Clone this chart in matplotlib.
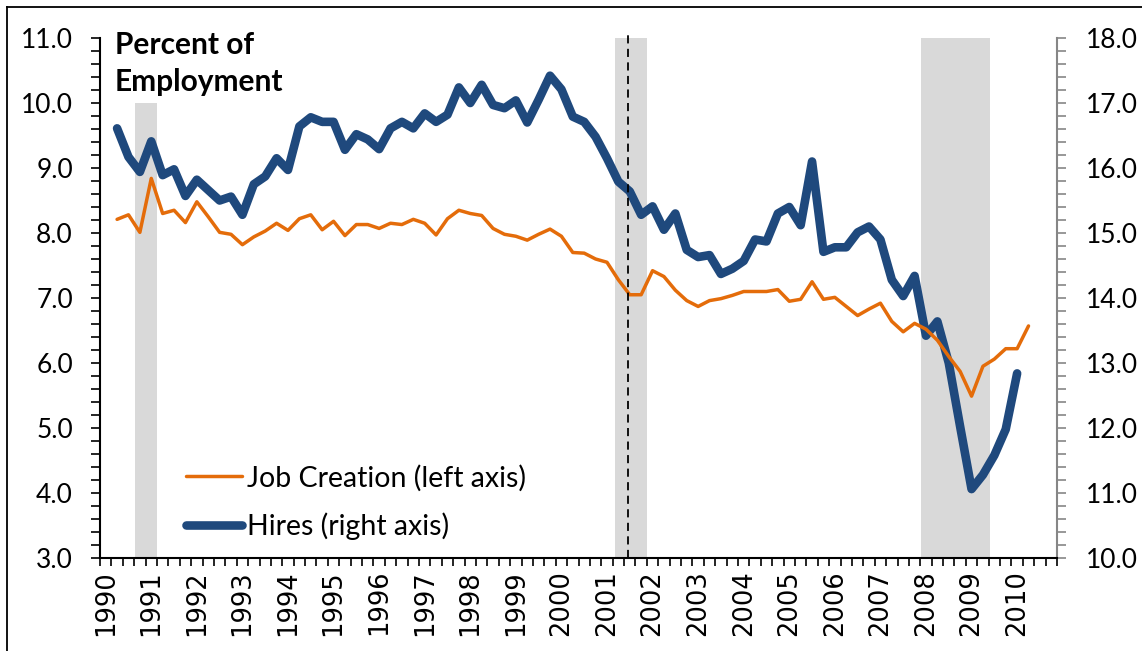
import matplotlib
matplotlib.use('Agg')
import matplotlib.pyplot as plt
from matplotlib.lines import Line2D
from matplotlib.patches import Rectangle
from matplotlib.ticker import FixedLocator, MultipleLocator, FormatStrFormatter
import numpy as np

# ---------------- data ----------------
years = [str(y) for y in range(1990, 2011)]          # labels, one per 4 quarters
n_quarters = 84                                      # 1990Q1 .. 2010Q4
jc_first_q = 1                                       # job creation starts 1990Q2
hires_first_q = 1                                    # hires starts 1990Q2

job_creation = [
    8.21, 8.28, 8.01, 8.84, 8.30, 8.35, 8.16, 8.48, 8.25, 8.01,
    7.98, 7.82, 7.94, 8.03, 8.15, 8.04, 8.22, 8.28, 8.05, 8.18,
    7.96, 8.13, 8.13, 8.07, 8.15, 8.13, 8.21, 8.15, 7.97, 8.22,
    8.35, 8.30, 8.27, 8.07, 7.98, 7.95, 7.89, 7.98, 8.06, 7.95,
    7.70, 7.69, 7.60, 7.55, 7.28, 7.05, 7.05, 7.42, 7.33, 7.12,
    6.96, 6.87, 6.96, 6.99, 7.04, 7.10, 7.10, 7.10, 7.13, 6.95,
    6.98, 7.25, 6.98, 7.01, 6.87, 6.73, 6.83, 6.92, 6.64, 6.48,
    6.61, 6.52, 6.35, 6.10, 5.87, 5.49, 5.95, 6.06, 6.22, 6.22,
    6.57,
]

hires = [
    16.61, 16.17, 15.94, 16.41, 15.89, 15.98, 15.57, 15.82, 15.66, 15.50,
    15.56, 15.28, 15.75, 15.87, 16.15, 15.97, 16.64, 16.78, 16.71, 16.71,
    16.28, 16.52, 16.44, 16.29, 16.61, 16.71, 16.61, 16.84, 16.71, 16.82,
    17.24, 17.00, 17.28, 16.97, 16.92, 17.04, 16.70, 17.05, 17.42, 17.21,
    16.79, 16.71, 16.48, 16.15, 15.79, 15.64, 15.28, 15.41, 15.05, 15.30,
    14.74, 14.63, 14.66, 14.37, 14.45, 14.57, 14.90, 14.87, 15.30, 15.40,
    15.12, 16.10, 14.71, 14.78, 14.78, 15.01, 15.10, 14.90, 14.28, 14.03,
    14.34, 13.42, 13.64, 13.00, 12.02, 11.06, 11.28, 11.58, 11.98, 12.84,
]

# recession shading: (start, end) in quarter units, top value on left axis
rec_start = [2.58, 44.67, 71.56]
rec_end = [4.48, 47.54, 77.65]
rec_top = [10.0, 11.0, 11.0]
event_q = 45.88                                      # dashed vertical marker

left_lim = (3.0, 11.0)
right_lim = (10.0, 18.0)

# ---------------- style ----------------
ORANGE = '#E46C0A'
BLUE = '#1F497D'
SHADE = '#D9D9D9'
RGRAY = '#868686'
FONT = 'Lato'

W, H = 1142, 651
fig = plt.figure(figsize=(W / 100, H / 100), dpi=100)
fig.patch.set_facecolor('white')

L, R, T, B = 100, 1057, 38, 558
rect = [L / W, 1 - B / H, (R - L) / W, (B - T) / H]

ax2 = fig.add_axes(rect)               # right axis (drawn below)
ax = fig.add_axes(rect, sharex=ax2)    # left axis (drawn on top)
ax.patch.set_visible(False)

ax.set_xlim(-0.5, n_quarters - 0.5)
ax.set_ylim(*left_lim)
ax2.set_ylim(*right_lim)

# shading (in left-axis units), drawn in the lower axes below hires
for s, e, t in zip(rec_start, rec_end, rec_top):
    r = Rectangle((s, left_lim[0]), e - s, t - left_lim[0],
                  transform=ax.transData, facecolor=SHADE,
                  edgecolor='none', zorder=0)
    ax2.add_patch(r)

# hires on right axis
xh = np.arange(hires_first_q, hires_first_q + len(hires))
ax2.plot(xh, hires, color=BLUE, lw=6.2, solid_joinstyle='round',
         solid_capstyle='round', zorder=3)

# job creation on left axis (on top)
xj = np.arange(jc_first_q, jc_first_q + len(job_creation))
ax.plot(xj, job_creation, color=ORANGE, lw=2.5, solid_joinstyle='round',
        solid_capstyle='round', zorder=3)

# dashed marker
ax.plot([event_q, event_q], [left_lim[0], left_lim[1] + 0.05],
        color='black', lw=1.3, ls=(0, (4.5, 3.0)), zorder=5, clip_on=False)

# ---------------- axes styling ----------------
for sp in ['top', 'right']:
    ax.spines[sp].set_visible(False)
for sp in ['top', 'left', 'bottom']:
    ax2.spines[sp].set_visible(False)
ax.spines['left'].set_linewidth(1.5)
ax.spines['bottom'].set_linewidth(1.5)
ax.spines['left'].set_color('black')
ax.spines['bottom'].set_color('black')
ax2.spines['right'].set_linewidth(1.5)
ax2.spines['right'].set_color(RGRAY)

# x ticks: marks at quarter boundaries, labels at year (Q1) centres
ax.xaxis.set_major_locator(FixedLocator(np.arange(-0.5, n_quarters, 1.0)))
ax.xaxis.set_major_formatter(plt.NullFormatter())
ax.set_xticks(np.arange(0, n_quarters, 4), labels=years, minor=True)
ax.tick_params(axis='x', which='major', direction='out', length=6,
               width=1.2, color='black')
ax.tick_params(axis='x', which='minor', length=0, pad=8.6,
               labelsize=18.5, labelrotation=90)
for lab in ax.get_xticklabels(minor=True):
    lab.set_family('DejaVu Sans')
    lab.set_va('top')
    lab.set_ha('center')

ax2.tick_params(axis='x', which='both', length=0, labelbottom=False)

# left y
ax.yaxis.set_major_locator(MultipleLocator(1.0))
ax.yaxis.set_minor_locator(MultipleLocator(0.2))
ax.yaxis.set_major_formatter(FormatStrFormatter('%.1f'))
ax.tick_params(axis='y', which='both', direction='out', length=6.5,
               width=1.2, color='black', pad=13.0)
ax.tick_params(axis='y', which='major', labelsize=19)
for lab in ax.get_yticklabels():
    lab.set_family(FONT)

# right y
ax2.yaxis.tick_right()
ax2.yaxis.set_major_locator(MultipleLocator(1.0))
ax2.yaxis.set_minor_locator(MultipleLocator(0.2))
ax2.yaxis.set_major_formatter(FormatStrFormatter('%.1f'))
ax2.tick_params(axis='y', which='both', direction='out', length=6.5,
                width=1.2, color=RGRAY, pad=14.0)
ax2.tick_params(axis='y', which='major', labelsize=19, labelcolor='black')
for lab in ax2.get_yticklabels():
    lab.set_family(FONT)

# title inside plot
fig.text(115 / W, 1 - 54 / H, 'Percent of', family=FONT, fontweight='bold',
         fontsize=21.5, va='baseline', ha='left')
fig.text(115 / W, 1 - 91 / H, 'Employment', family=FONT, fontweight='bold',
         fontsize=21.5, va='baseline', ha='left')

# legend
handles = [Line2D([], [], color=ORANGE, lw=2.5, solid_capstyle='round'),
           Line2D([], [], color=BLUE, lw=6.2, solid_capstyle='round')]
labels = ['Job Creation (left axis)', 'Hires (right axis)']
leg = ax.legend(handles, labels, loc='center left',
                bbox_to_anchor=((186 - L) / (R - L), (B - 502) / (B - T)),
                frameon=False, borderaxespad=0, borderpad=0,
                handlelength=1.98, handletextpad=0.15, labelspacing=0.73,
                prop={'family': FONT, 'size': 20.5})

# outer frame lines (left and top)
fig.add_artist(Line2D([6.5 / W, 6.5 / W], [0, 1 - 6.7 / H],
                      transform=fig.transFigure, color='black', lw=1.3))
fig.add_artist(Line2D([6.5 / W, 1.0], [1 - 6.7 / H, 1 - 6.7 / H],
                      transform=fig.transFigure, color='black', lw=1.3))

fig.savefig('out.png', dpi=100, facecolor='white')
